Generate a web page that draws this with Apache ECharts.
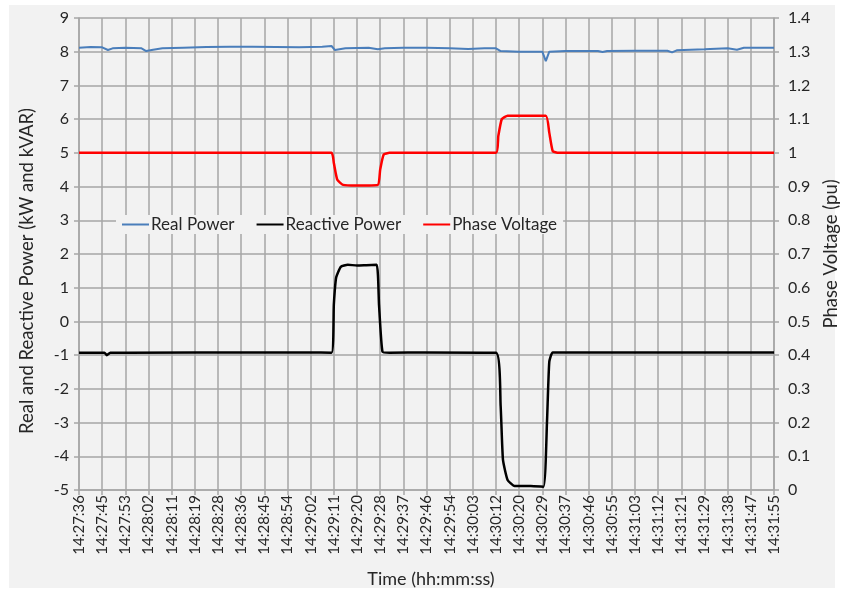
<!DOCTYPE html>
<html>
<head>
<meta charset="utf-8">
<script src="https://cdn.jsdelivr.net/npm/echarts@6/dist/echarts.min.js"></script>
<style>
  html, body { margin: 0; padding: 0; background: #ffffff; }
  #frame { position: absolute; left: 9px; top: 5px; width: 826px; height: 583px; background: #f2f2f2; }
  #chart { position: absolute; left: 0; top: 0; width: 841px; height: 592px; }
</style>
</head>
<body>
<div id="frame"></div>
<div id="chart"></div>
<script>
// Time tick labels (one per major gridline)
const timeLabels = [
  '14:27:36','14:27:45','14:27:53','14:28:02','14:28:11','14:28:19','14:28:28','14:28:36',
  '14:28:45','14:28:54','14:29:02','14:29:11','14:29:20','14:29:28','14:29:37','14:29:46',
  '14:29:54','14:30:03','14:30:12','14:30:20','14:30:29','14:30:37','14:30:46','14:30:55',
  '14:31:03','14:31:12','14:31:21','14:31:29','14:31:38','14:31:47','14:31:55'
];

// Samples as [tick position, value]
const realPower = [
  [0,8.12],[0.5,8.14],[1.0,8.13],[1.25,8.05],[1.45,8.1],[2.0,8.12],[2.7,8.1],[2.9,8.02],
  [3.2,8.06],[3.6,8.1],[4.5,8.12],[5.5,8.14],[6.5,8.15],[7.5,8.15],[8.5,8.14],[9.5,8.13],
  [10.5,8.15],[10.9,8.17],[11.05,8.05],[11.5,8.1],[12.5,8.12],[12.9,8.07],[13.2,8.1],
  [14,8.12],[15,8.12],[16,8.1],[16.8,8.08],[17.5,8.1],[18.0,8.1],[18.2,8.02],[19,8.0],
  [20.0,8.0],[20.15,7.72],[20.3,8.0],[21,8.02],[22.4,8.02],[22.6,7.99],[22.8,8.02],
  [24,8.03],[25.4,8.03],[25.6,7.98],[25.8,8.04],[27,8.07],[28,8.1],[28.4,8.06],
  [28.7,8.12],[30,8.12]
];

const reactivePower = [
  [0,-0.93],[1.1,-0.93],[1.2,-1.0],[1.35,-0.93],[5,-0.92],[10,-0.92],[10.9,-0.93],
  [11.0,0.5],[11.1,1.3],[11.3,1.62],[11.6,1.68],[12,1.66],[12.4,1.67],[12.85,1.68],
  [12.95,0.5],[13.1,-0.9],[13.4,-0.93],[15,-0.92],[18.0,-0.93],[18.2,-2.5],[18.3,-4.1],
  [18.5,-4.7],[18.8,-4.88],[19.5,-4.88],[20.05,-4.9],[20.2,-3.0],[20.3,-1.2],
  [20.45,-0.92],[22,-0.92],[26,-0.92],[30,-0.92]
];

const phaseVoltage = [
  [0,1.0],[5,1.0],[10.9,1.0],[11.0,0.97],[11.15,0.92],[11.4,0.905],[12.0,0.903],
  [12.9,0.905],[13.0,0.95],[13.15,0.995],[13.4,1.0],[18.0,1.0],[18.1,1.05],[18.25,1.10],
  [18.5,1.11],[20.15,1.11],[20.3,1.06],[20.45,1.005],[20.7,1.0],[30,1.0]
];

const FONT = 'Lato, "Open Sans", sans-serif';
const TEXT = '#262626';
const GRID = '#a6a6a6';

const chart = echarts.init(document.getElementById('chart'), null, { renderer: 'canvas' });

chart.setOption({
  backgroundColor: 'transparent',
  animation: false,
  textStyle: { fontFamily: FONT },
  grid: { left: 79, right: 67, top: 18, bottom: 102, containLabel: false, outerBoundsMode: 'none' },
  legend: {
    left: 116, top: 215,
    backgroundColor: '#f2f2f2',
    padding: [1, 6, 1, 6],
    itemGap: 22,
    itemWidth: 27, itemHeight: 2,
    icon: 'rect',
    textStyle: { fontFamily: FONT, fontSize: 17, color: TEXT, padding: [0, 0, 0, -3] },
    data: ['Real Power', 'Reactive Power', 'Phase Voltage']
  },
  xAxis: {
    type: 'value', min: 0, max: 30, interval: 1,
    name: 'Time (hh:mm:ss)', nameLocation: 'middle', nameGap: 80,
    nameTextStyle: { fontFamily: FONT, fontSize: 18, color: TEXT, padding: [0, 0, 0, 9] },
    axisLine: { show: true, onZero: false, lineStyle: { color: GRID, width: 1.5 } },
    axisTick: { show: true, length: 5, lineStyle: { color: GRID, width: 1.5 } },
    axisLabel: {
      rotate: 90, fontSize: 15, color: TEXT, margin: 5, fontFamily: FONT,
      formatter: v => timeLabels[Math.round(v)] || ''
    },
    splitLine: { show: true, lineStyle: { color: GRID, width: 1.5 } }
  },
  yAxis: [
    {
      type: 'value', min: -5, max: 9, interval: 1,
      name: 'Real and Reactive Power (kW and kVAR)', nameLocation: 'middle', nameGap: 42,
      nameTextStyle: { fontFamily: FONT, fontSize: 18.5, color: TEXT, padding: [0, 34, 0, 0] },
      axisLine: { show: true, lineStyle: { color: GRID, width: 1.5 } },
      axisTick: { show: true, length: 5, lineStyle: { color: GRID, width: 1.5 } },
      axisLabel: { fontSize: 16, color: TEXT, margin: 10, fontFamily: FONT },
      splitLine: { show: true, lineStyle: { color: GRID, width: 1.5 } }
    },
    {
      type: 'value', min: 0, max: 1.4, interval: 0.1,
      name: 'Phase Voltage (pu)', nameLocation: 'middle', nameGap: 48,
      nameTextStyle: { fontFamily: FONT, fontSize: 18.5, color: TEXT },
      axisLine: { show: true, lineStyle: { color: GRID, width: 1.5 } },
      axisTick: { show: true, length: 5, lineStyle: { color: GRID, width: 1.5 } },
      axisLabel: {
        fontSize: 16, color: TEXT, margin: 14, fontFamily: FONT,
        formatter: v => String(Math.round(v * 10) / 10)
      },
      splitLine: { show: false }
    }
  ],
  series: [
    {
      name: 'Real Power', type: 'line', yAxisIndex: 0, data: realPower,
      showSymbol: false, symbol: 'none',
      lineStyle: { color: '#4a7ebb', width: 2 }, itemStyle: { color: '#4a7ebb' }
    },
    {
      name: 'Reactive Power', type: 'line', yAxisIndex: 0, data: reactivePower,
      showSymbol: false, symbol: 'none', smooth: 0.15,
      lineStyle: { color: '#000000', width: 2.5 }, itemStyle: { color: '#000000' }
    },
    {
      name: 'Phase Voltage', type: 'line', yAxisIndex: 1, data: phaseVoltage,
      showSymbol: false, symbol: 'none', smooth: 0.15,
      lineStyle: { color: '#ff0000', width: 2.5 }, itemStyle: { color: '#ff0000' }
    }
  ]
});
</script>
</body>
</html>
